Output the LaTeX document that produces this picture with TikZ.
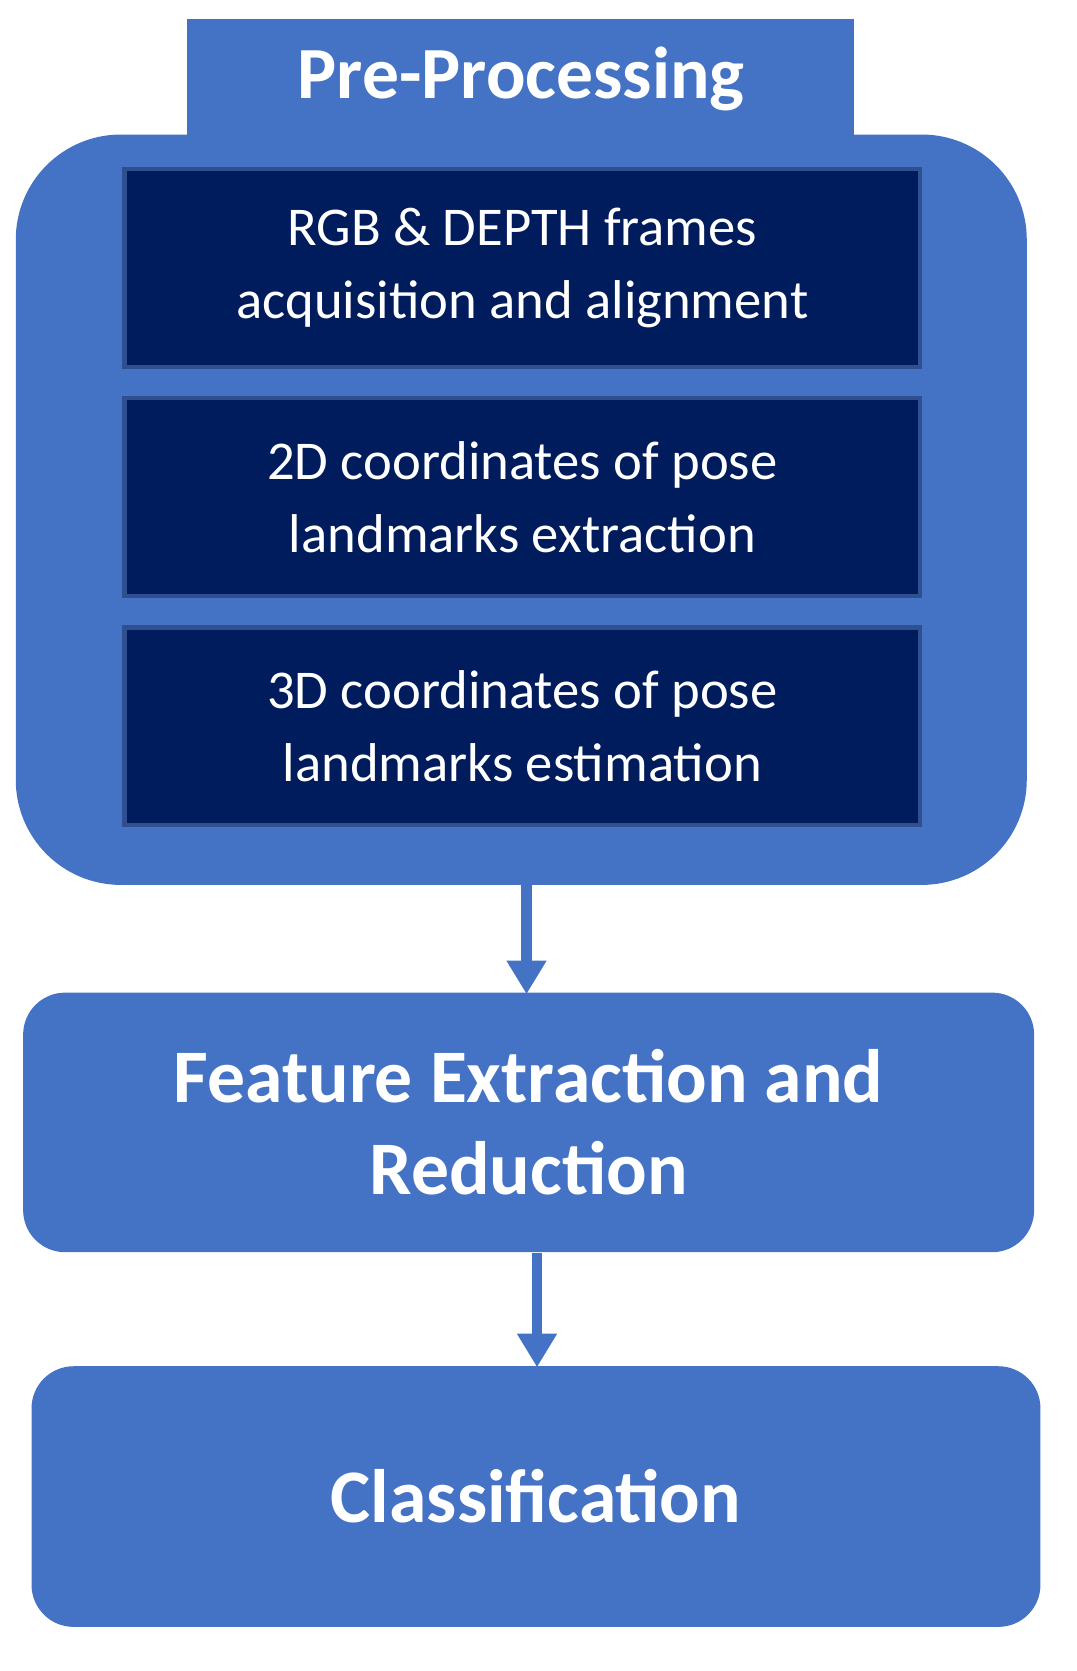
\documentclass[tikz,border=0pt]{standalone}
\usepackage{fontspec}
\setmainfont{Carlito}
\usetikzlibrary{arrows.meta}
\definecolor{blu}{HTML}{4472C4}
\definecolor{navy}{HTML}{001C5C}
\definecolor{navyb}{HTML}{2F4F8F}
\begin{document}
\begin{tikzpicture}[x=1pt,y=-1pt,
 inner/.style={draw=navyb,line width=4pt,fill=navy,minimum width=757pt,minimum height=188pt,text=white,align=center,font=\fontsize{52}{69}\selectfont},
 big/.style={fill=blu,rounded corners=40pt,minimum width=962pt,minimum height=247pt,text=white,align=center,font=\bfseries\fontsize{72}{88}\selectfont},
 arr/.style={blu,line width=10pt,-{Triangle[width=36pt,length=32pt]}}]
\useasboundingbox (0,0) rectangle (1024,1590);
\fill[blu] (178,18) rectangle (813,140);
\node[fill=blu,rounded corners=100pt,minimum width=962pt,minimum height=714pt] (pre) at (496,485) {};
\node[text=white,font=\bfseries\fontsize{70}{84}\selectfont] (tit) at (496,75) {Pre-Processing};
\node[inner] (a) at (497,255) {RGB \& DEPTH frames\\acquisition and alignment};
\node[inner] (b) at (497,473) {2D coordinates of pose\\landmarks extraction};
\node[inner] (c) at (497,691) {3D coordinates of pose\\landmarks estimation};
\node[big] (f) at (503,1068) {Feature Extraction and\\Reduction};
\node[big,minimum width=960pt,minimum height=248pt] (cl) at (510,1424) {Classification};
\draw[arr] (501,842) -- (501,946);
\draw[arr] (511,1192) -- (511,1301);
\end{tikzpicture}
\end{document}
